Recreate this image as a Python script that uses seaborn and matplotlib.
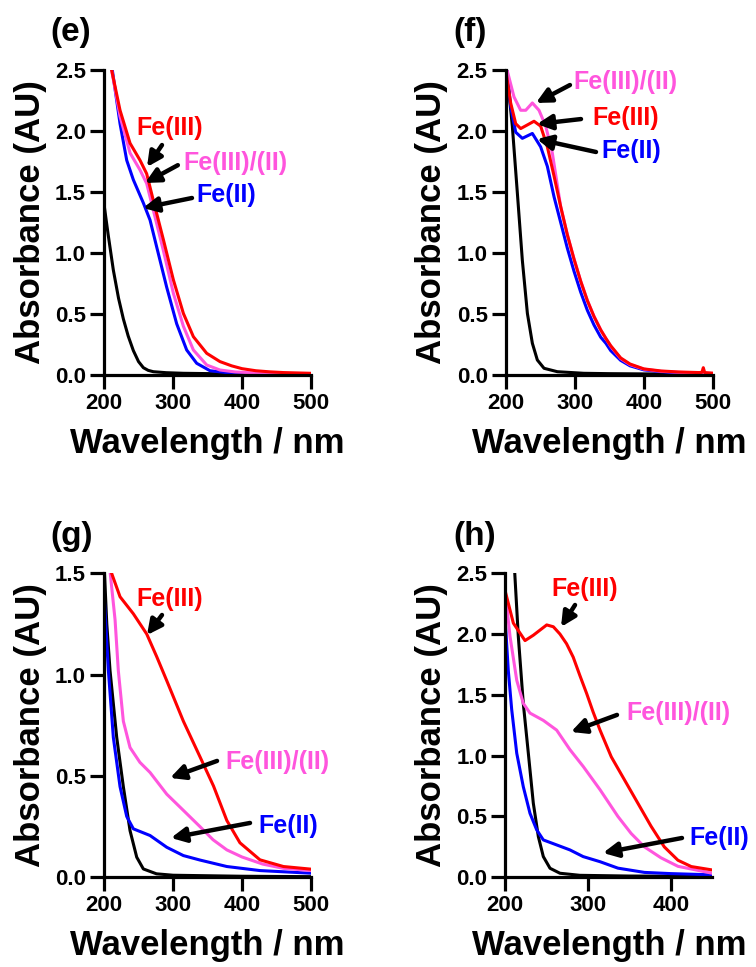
import matplotlib
matplotlib.use('Agg')
import matplotlib.pyplot as plt
import seaborn as sns
from matplotlib.ticker import FormatStrFormatter

sns.set_theme(style='ticks')
plt.rcParams['font.family'] = ['Liberation Sans', 'DejaVu Sans']
plt.rcParams['font.weight'] = 'bold'
plt.rcParams['axes.labelweight'] = 'bold'
plt.rcParams['text.color'] = 'black'
plt.rcParams['axes.labelcolor'] = 'black'

RED = '#ff0000'
PINK = '#ff55dd'
BLUE = '#0000ff'
BLACK = '#000000'

# ---- panel (e) ----
e_black_x = [200, 206, 213.5, 221, 228, 235, 242.5, 250, 257, 264, 271.5, 290, 315, 400, 500]
e_black_y = [1.4, 1.15, 0.86, 0.63, 0.46, 0.32, 0.2, 0.11, 0.06, 0.038, 0.027, 0.019, 0.014, 0.008, 0.005]
e_red_x = [200, 211, 223.2, 237.7, 252.2, 261.8, 271.5, 286, 300.5, 315, 329.5, 348.8, 368, 385, 400,
           420, 440, 460, 500]
e_red_y = [3.0, 2.5, 2.17, 1.9, 1.76, 1.65, 1.43, 1.11, 0.78, 0.505, 0.314, 0.178, 0.11, 0.075, 0.052,
           0.035, 0.026, 0.02, 0.014]
e_pink_x = [200, 211, 223.2, 237.7, 252.2, 261.8, 271.5, 286, 300.5, 315, 329.5, 348.8, 368, 390, 420,
            460, 500]
e_pink_y = [3.0, 2.5, 2.12, 1.82, 1.68, 1.57, 1.35, 1.02, 0.67, 0.4, 0.205, 0.082, 0.041, 0.025, 0.016,
            0.011, 0.008]
e_blue_x = [200, 212, 223.2, 232.9, 242.5, 257, 266.7, 276.3, 290.8, 305.3, 319.8, 334.3, 353.6, 380,
            420, 500]
e_blue_y = [3.0, 2.5, 2.06, 1.76, 1.6, 1.41, 1.27, 1.05, 0.72, 0.42, 0.205, 0.096, 0.035, 0.018, 0.01,
            0.005]

# ---- panel (f) ----
f_black_x = [200, 201.4, 209.6, 216.9, 224.1, 231.4, 238.6, 245.8, 255.5, 274.8, 313, 350, 400, 500]
f_black_y = [2.6, 2.5, 2.04, 1.49, 0.94, 0.505, 0.26, 0.123, 0.055, 0.027, 0.014, 0.011, 0.009, 0.007]
f_red_x = [200, 207.2, 214.5, 221.7, 231.4, 241, 250.6, 260.3, 270, 279.6, 289.2, 298.9, 308.5, 318.2,
           327.8, 337.5, 345, 352, 366.4, 380, 400, 425, 450, 480, 484, 486, 488, 500]
f_red_y = [2.5, 2.23, 2.06, 2.02, 2.05, 2.08, 2.04, 1.87, 1.63, 1.38, 1.15, 0.95, 0.77, 0.61, 0.48, 0.37,
           0.3, 0.24, 0.14, 0.09, 0.05, 0.033, 0.025, 0.02, 0.022, 0.06, 0.02, 0.015]
f_pink_x = [200, 202, 212, 221.7, 229, 238.6, 248.2, 257.9, 267.5, 279.6, 289.2, 298.9, 308.5, 318.2,
            327.8, 337.5, 345, 352, 366.4, 380, 400, 425, 450, 500]
f_pink_y = [2.6, 2.5, 2.28, 2.17, 2.17, 2.23, 2.17, 2.04, 1.82, 1.38, 1.15, 0.95, 0.77, 0.61, 0.48, 0.37,
            0.3, 0.235, 0.135, 0.085, 0.048, 0.03, 0.022, 0.013]
f_blue_x = [200, 207.2, 214.5, 224.1, 238.6, 250.6, 260.3, 270, 279.6, 289.2, 298.9, 308.5, 318.2, 327.8,
            337.5, 345, 352, 366.4, 380, 400, 425, 450, 500]
f_blue_y = [2.6, 2.2, 1.99, 1.94, 1.98, 1.87, 1.71, 1.46, 1.25, 1.04, 0.85, 0.68, 0.53, 0.41, 0.31, 0.26,
            0.2, 0.12, 0.075, 0.042, 0.027, 0.018, 0.01]

# ---- panel (g) ----
g_black_x = [200, 204, 208.7, 218.4, 228, 237.7, 247.4, 257, 276, 300, 400, 500]
g_black_y = [1.55, 1.25, 1.02, 0.69, 0.447, 0.23, 0.099, 0.041, 0.017, 0.01, 0.005, 0.003]
g_red_x = [200, 211, 223.2, 242.5, 261.9, 276.4, 290.9, 315, 339, 358.7, 378, 397, 426, 460, 500]
g_red_y = [1.9, 1.5, 1.384, 1.3, 1.2, 1.088, 0.97, 0.77, 0.595, 0.45, 0.28, 0.17, 0.086, 0.053, 0.04]
g_pink_x = [200, 209, 216, 220.7, 228, 237.7, 252, 266.7, 290.9, 315, 339, 358, 378, 400, 430, 460, 500]
g_pink_y = [2.0, 1.5, 1.27, 1.02, 0.77, 0.64, 0.567, 0.517, 0.41, 0.33, 0.25, 0.185, 0.135, 0.1, 0.065,
            0.044, 0.033]
g_blue_x = [200, 206.3, 213.5, 223.2, 232.9, 242.5, 266.7, 290.9, 315, 339, 378, 426, 500]
g_blue_y = [1.4, 1.02, 0.69, 0.447, 0.3, 0.239, 0.206, 0.148, 0.107, 0.085, 0.053, 0.033, 0.02]

# ---- panel (h) ----
h_black_x = [200, 211, 215.7, 221.7, 227.8, 233.8, 239.9, 245.9, 254, 266, 290, 350, 450]
h_black_y = [3.8, 2.55, 1.98, 1.43, 1.02, 0.61, 0.334, 0.17, 0.074, 0.033, 0.016, 0.01, 0.008]
h_red_x = [200, 209.7, 223.8, 233.8, 250, 258, 266, 274, 282, 290, 298.3, 306, 314.4, 328, 344, 360, 376,
           392, 408.5, 424.6, 450]
h_red_y = [2.35, 2.09, 1.946, 1.99, 2.075, 2.06, 2.0, 1.92, 1.81, 1.66, 1.51, 1.36, 1.21, 0.99, 0.8, 0.61,
           0.42, 0.25, 0.14, 0.088, 0.06]
h_pink_x = [200, 205.7, 213.8, 221.7, 229.8, 245.9, 262, 278, 294.2, 314.4, 336, 352, 368, 388, 408.5, 450]
h_pink_y = [2.34, 1.98, 1.62, 1.43, 1.35, 1.29, 1.21, 1.05, 0.91, 0.72, 0.5, 0.36, 0.25, 0.16, 0.09, 0.033]
h_blue_x = [200, 203.6, 207.7, 213.8, 221.7, 229.8, 237.9, 245.9, 262, 278, 294, 314.4, 336, 368, 400, 450]
h_blue_y = [2.1, 1.7, 1.38, 1.02, 0.745, 0.526, 0.39, 0.307, 0.266, 0.225, 0.17, 0.128, 0.075, 0.04, 0.03,
            0.02]

labels = ['Fe(III)', 'Fe(III)/(II)', 'Fe(II)']

fig = plt.figure(figsize=(7.56, 9.67), dpi=100)

panels = [
    dict(rect=[0.1376, 0.6122, 0.2738, 0.3154], letter='(e)', lpos=(71, 32),
         xlim=(200, 500), xticks=[200, 300, 400, 500], ylim=(0, 2.5), yticks=[0, 0.5, 1.0, 1.5, 2.0, 2.5],
         series=[(e_black_x, e_black_y, BLACK), (e_blue_x, e_blue_y, BLUE),
                 (e_pink_x, e_pink_y, PINK), (e_red_x, e_red_y, RED)],
         notes=[(labels[0], RED, (295.7, 2.025), (284, 1.885), (262.3, 1.705)),
                (labels[1], PINK, (389.9, 1.738), (307, 1.72), (259.4, 1.574)),
                (labels[2], BLUE, (376.8, 1.475), (327.5, 1.451), (256.5, 1.369))]),
    dict(rect=[0.6689, 0.6122, 0.2742, 0.3154], letter='(f)', lpos=(470, 32),
         xlim=(200, 500), xticks=[200, 300, 400, 500], ylim=(0, 2.5), yticks=[0, 0.5, 1.0, 1.5, 2.0, 2.5],
         series=[(f_black_x, f_black_y, BLACK), (f_blue_x, f_blue_y, BLUE),
                 (f_pink_x, f_pink_y, PINK), (f_red_x, f_red_y, RED)],
         notes=[(labels[1], PINK, (374, 2.40), (293, 2.377), (243.8, 2.23)),
                (labels[0], RED, (374, 2.107), (309, 2.098), (245.3, 2.057)),
                (labels[2], BLUE, (381.3, 1.836), (330.7, 1.828), (245.3, 1.934))]),
    dict(rect=[0.1376, 0.0928, 0.2738, 0.3144], letter='(g)', lpos=(72, 536),
         xlim=(200, 500), xticks=[200, 300, 400, 500], ylim=(0, 1.5), yticks=[0, 0.5, 1.0, 1.5],
         series=[(g_black_x, g_black_y, BLACK), (g_blue_x, g_blue_y, BLUE),
                 (g_pink_x, g_pink_y, PINK), (g_red_x, g_red_y, RED)],
         notes=[(labels[0], RED, (295.7, 1.373), (284, 1.294), (262.3, 1.195)),
                (labels[1], PINK, (452, 0.569), (363.8, 0.574), (295.7, 0.49)),
                (labels[2], BLUE, (466.7, 0.253), (411.6, 0.268), (297, 0.194))]),
    dict(rect=[0.6684, 0.0928, 0.2738, 0.3144], letter='(h)', lpos=(475, 536),
         xlim=(200, 450), xticks=[200, 300, 400], ylim=(0, 2.5), yticks=[0, 0.5, 1.0, 1.5, 2.0, 2.5],
         series=[(h_black_x, h_black_y, BLACK), (h_blue_x, h_blue_y, BLUE),
                 (h_pink_x, h_pink_y, PINK), (h_red_x, h_red_y, RED)],
         notes=[(labels[0], RED, (296.3, 2.371), (284.2, 2.239), (267.3, 2.058)),
                (labels[1], PINK, (408.6, 1.351), (334.9, 1.335), (279.3, 1.195)),
                (labels[2], BLUE, (458, 0.323), (413.4, 0.323), (318, 0.2))]),
]

for p in panels:
    ax = fig.add_axes(p['rect'])
    for x, y, c in p['series']:
        sns.lineplot(x=x, y=y, color=c, lw=2.2, ax=ax, estimator=None, sort=False)
    ax.set_xlim(*p['xlim'])
    ax.set_ylim(*p['ylim'])
    ax.set_xticks(p['xticks'])
    ax.set_yticks(p['yticks'])
    ax.yaxis.set_major_formatter(FormatStrFormatter('%.1f'))
    sns.despine(ax=ax)
    for s in ['left', 'bottom']:
        ax.spines[s].set_linewidth(2.3)
        ax.spines[s].set_color('black')
    ax.tick_params(axis='both', direction='out', length=10, width=2.3, color='black',
                   labelsize=16, labelcolor='black', pad=3)
    ax.set_xlabel('Wavelength / nm', fontsize=25, fontweight='bold', labelpad=9)
    ax.set_ylabel('Absorbance (AU)', fontsize=25, fontweight='bold', labelpad=6)
    for text, color, txy, tail, head in p['notes']:
        ax.text(txy[0], txy[1], text, color=color, ha='center', va='center',
                fontsize=18, fontweight='bold', clip_on=False)
        ax.annotate('', xy=head, xytext=tail, annotation_clip=False,
                    arrowprops=dict(arrowstyle='-|>', color='black', lw=3.2,
                                    mutation_scale=22, shrinkA=0, shrinkB=0))
    fig.text(p['lpos'][0] / 756, 1 - p['lpos'][1] / 967, p['letter'], ha='center', va='center',
             fontsize=24, fontweight='bold')

fig.savefig('out.png', dpi=100)
